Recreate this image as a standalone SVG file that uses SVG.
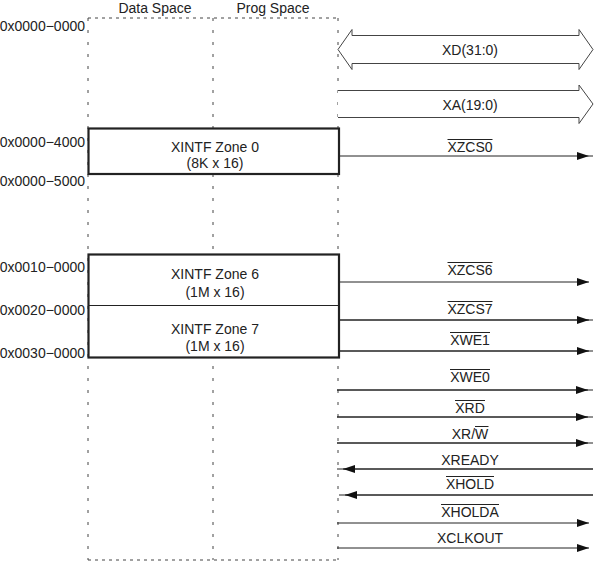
<svg xmlns="http://www.w3.org/2000/svg" width="594" height="563" viewBox="0 0 594 563">
<style>
text{font-family:"Liberation Sans",Arial,sans-serif;font-size:14px;fill:#222}
.m{text-anchor:middle}
.e{text-anchor:end}
.dv{stroke:#444;stroke-width:1;stroke-dasharray:3,9;fill:none}
.dh{stroke:#444;stroke-width:1;stroke-dasharray:3,4;fill:none}
.box{fill:#fff;stroke:#222;stroke-width:2.2}
.sig{stroke:#222;stroke-width:1;fill:none}
.ov{stroke:#222;stroke-width:1}
.bus{fill:#fff;stroke:#444;stroke-width:1}
</style>
<defs>
<marker id="ar" viewBox="0 0 12 8" refX="12" refY="4" markerWidth="12" markerHeight="8" markerUnits="userSpaceOnUse" orient="auto"><path d="M0,0L12,4L0,8z" fill="#111"/></marker>
</defs>
<g id="headers">
<text class="m" x="155" y="12.5">Data Space</text>
<text class="m" x="273" y="12.5">Prog Space</text>
</g>
<g id="space">
<line class="dh" x1="88" y1="18" x2="338" y2="18"/>
<line class="dh" x1="88" y1="560" x2="338" y2="560"/>
<line class="dv" x1="88" y1="18" x2="88" y2="560"/>
<line class="dv" x1="213" y1="18" x2="213" y2="560"/>
<line class="dv" x1="338" y1="18" x2="338" y2="560"/>
</g>
<g id="addresses">
<text class="e" x="85" y="31">0x0000−0000</text>
<text class="e" x="85" y="147">0x0000−4000</text>
<text class="e" x="85" y="186">0x0000−5000</text>
<text class="e" x="85" y="272">0x0010−0000</text>
<text class="e" x="85" y="315">0x0020−0000</text>
<text class="e" x="85" y="358">0x0030−0000</text>
</g>
<g id="zone0">
<rect class="box" x="88.5" y="128.5" width="250.5" height="45.5"/>
<text class="m" x="215" y="152">XINTF Zone 0</text>
<text class="m" x="215" y="168">(8K x 16)</text>
</g>
<g id="zone67">
<rect class="box" x="88.5" y="254.5" width="250.5" height="103"/>
<line x1="88.5" y1="305.5" x2="339" y2="305.5" stroke="#222" stroke-width="1"/>
</g>
<g id="zone6">
<text class="m" x="215" y="279">XINTF Zone 6</text>
<text class="m" x="215" y="297">(1M x 16)</text>
</g>
<g id="zone7">
<text class="m" x="215" y="334">XINTF Zone 7</text>
<text class="m" x="215" y="351">(1M x 16)</text>
</g>
<g id="connectors">
<path class="bus" d="M338,49.5L352,29.5V35.5H579V29.5L593,49.5L579,69.5V63.5H352V69.5Z"/>
<path class="bus" d="M338,90.5H579V85L593,104L579,123.5V117.5H338"/>
<line class="sig" x1="339" y1="156" x2="589" y2="156" marker-end="url(#ar)"/>
<line class="sig" x1="589" y1="156" x2="593" y2="156"/>
<line class="sig" x1="339" y1="282" x2="589" y2="282" marker-end="url(#ar)"/>
<line class="sig" x1="339" y1="320" x2="593" y2="320"/>
<line class="sig" x1="339" y1="320" x2="589" y2="320" marker-end="url(#ar)"/>
<line class="sig" x1="339" y1="351" x2="593" y2="351"/>
<line class="sig" x1="339" y1="351" x2="589" y2="351" marker-end="url(#ar)"/>
<line class="sig" x1="337" y1="390" x2="593" y2="390"/>
<line class="sig" x1="337" y1="390" x2="588" y2="390" marker-end="url(#ar)"/>
<line class="sig" x1="337" y1="417" x2="593" y2="417"/>
<line class="sig" x1="337" y1="417" x2="588" y2="417" marker-end="url(#ar)"/>
<line class="sig" x1="337" y1="443" x2="593" y2="443"/>
<line class="sig" x1="337" y1="443" x2="588" y2="443" marker-end="url(#ar)"/>
<line class="sig" x1="337" y1="469" x2="593" y2="469"/>
<line class="sig" x1="593" y1="469" x2="343" y2="469" marker-end="url(#ar)"/>
<line class="sig" x1="339" y1="495" x2="593" y2="495"/>
<line class="sig" x1="593" y1="495" x2="345" y2="495" marker-end="url(#ar)"/>
<line class="sig" x1="337" y1="523" x2="589" y2="523" marker-end="url(#ar)"/>
<line class="sig" x1="337" y1="548" x2="589" y2="548" marker-end="url(#ar)"/>
</g>
<g id="labels">
<text class="m" x="470" y="55">XD(31:0)</text>
<text class="m" x="470" y="110">XA(19:0)</text>
<text class="m" x="470" y="152">XZCS0</text>
<line class="ov" x1="447.5" y1="139.5" x2="492.5" y2="139.5"/>
<text class="m" x="470" y="275">XZCS6</text>
<line class="ov" x1="447.5" y1="262.5" x2="492.5" y2="262.5"/>
<text class="m" x="470" y="314">XZCS7</text>
<line class="ov" x1="447.5" y1="301.5" x2="492.5" y2="301.5"/>
<text class="m" x="470" y="345">XWE1</text>
<line class="ov" x1="450" y1="332.5" x2="490" y2="332.5"/>
<text class="m" x="470" y="382">XWE0</text>
<line class="ov" x1="450" y1="369.5" x2="490" y2="369.5"/>
<text class="m" x="470" y="413">XRD</text>
<line class="ov" x1="455" y1="400.5" x2="485" y2="400.5"/>
<text class="m" x="470" y="439">XR/W</text>
<line class="ov" x1="475" y1="426.5" x2="488.5" y2="426.5"/>
<text class="m" x="470" y="465">XREADY</text>
<text class="m" x="470" y="489">XHOLD</text>
<line class="ov" x1="446" y1="476.5" x2="494" y2="476.5"/>
<text class="m" x="470" y="517">XHOLDA</text>
<line class="ov" x1="441" y1="504.5" x2="499" y2="504.5"/>
<text class="m" x="470" y="543">XCLKOUT</text>
</g>
</svg>
